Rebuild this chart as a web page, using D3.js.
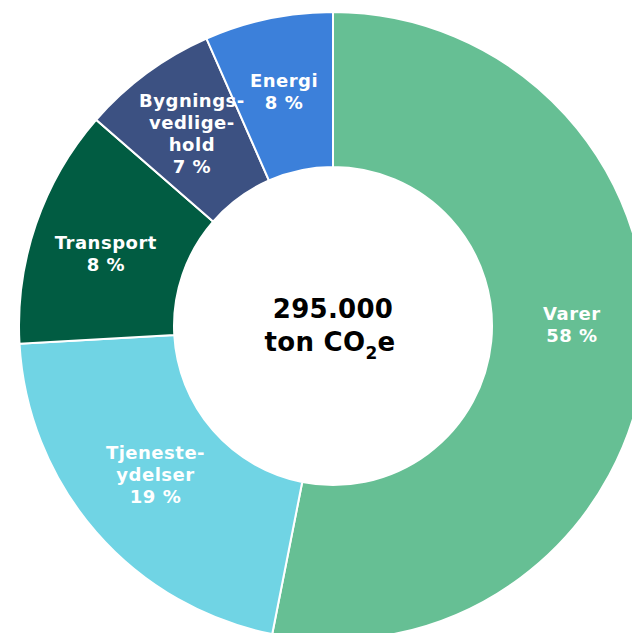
<!DOCTYPE html>
<html>
<head>
<meta charset="utf-8">
<script src="https://cdn.jsdelivr.net/npm/d3@7"></script>
<style>
  body { margin: 0; background: #fff; }
  text { font-family: "DejaVu Sans", Verdana, sans-serif; font-weight: bold; }
</style>
</head>
<body>
<div id="chart"></div>
<script>
// slices, clockwise from 12 o'clock
var categories = ["Varer", "Tjenesteydelser", "Transport", "Bygningsvedligehold", "Energi"];
var shares = [53.1, 21.0, 12.3, 7.0, 6.6];          // wedge sizes as drawn (%)
var pctLabels = ["58 %", "19 %", "8 %", "7 %", "8 %"]; // labels as printed
var labelLines = [["Varer"], ["Tjeneste-", "ydelser"], ["Transport"], ["Bygnings-", "vedlige-", "hold"], ["Energi"]];
var colors = ["#66bf94", "#70d4e4", "#015c42", "#3c5182", "#3c80da"];
var totalValue = "295.000";

var width = 632, height = 633,
    cx = 333, cy = 326,
    outerR = 314, innerR = 159,
    labelR = 238;

var svg = d3.select("#chart")
  .append("svg")
    .attr("width", width)
    .attr("height", height)
  .append("g")
    .attr("transform", "translate(" + cx + "," + cy + ")");

var data = categories.map(function (c, i) {
  return {name: c, value: shares[i], pct: pctLabels[i], lines: labelLines[i], color: colors[i]};
});

var pie = d3.pie()
  .sort(null)
  .value(function (d) { return d.value; });

var arc = d3.arc()
  .innerRadius(innerR)
  .outerRadius(outerR);

var labelArc = d3.arc()
  .innerRadius(labelR)
  .outerRadius(labelR);

var arcs = pie(data);

svg.selectAll("path.slice")
  .data(arcs)
  .enter()
  .append("path")
    .attr("class", "slice")
    .attr("d", arc)
    .style("fill", function (d) { return d.data.color; })
    .style("stroke", "#fff")
    .style("stroke-width", 2);

// small nudges so labels sit where the original put them
var nudge = {"Varer": [2, -24], "Tjenesteydelser": [2, -8], "Transport": [-2, 5], "Energi": [0, -1], "Bygningsvedligehold": [0, -1]};
var lineH = 22;

var labels = svg.selectAll("text.lab")
  .data(arcs)
  .enter()
  .append("text")
    .attr("class", "lab")
    .attr("text-anchor", "middle")
    .style("fill", "#fff")
    .style("font-size", "18px")
    .style("letter-spacing", "0.5px")
    .attr("transform", function (d) {
      var c = labelArc.centroid(d);
      var n = nudge[d.data.name] || [0, 0];
      return "translate(" + (c[0] + n[0]) + "," + (c[1] + n[1]) + ")";
    });

labels.each(function (d) {
  var all = d.data.lines.concat([d.data.pct]);
  var t = d3.select(this);
  var y0 = -(all.length - 1) * lineH / 2;
  all.forEach(function (s, i) {
    t.append("tspan")
      .attr("x", 0)
      .attr("y", y0 + i * lineH)
      .attr("dy", "0.35em")
      .text(s);
  });
});

// centre total
var centre = svg.append("text")
  .attr("text-anchor", "middle")
  .style("fill", "#000")
  .style("font-size", "26px")
  .style("letter-spacing", "0.3px");

centre.append("tspan")
  .attr("x", 0)
  .attr("y", -8)
  .text(totalValue);

var l2 = centre.append("tspan")
  .attr("x", -3)
  .attr("y", 25);
l2.append("tspan").text("ton CO");
l2.append("tspan").attr("dy", 8).style("font-size", "17px").text("2");
l2.append("tspan").attr("dy", -8).text("e");
</script>
</body>
</html>
